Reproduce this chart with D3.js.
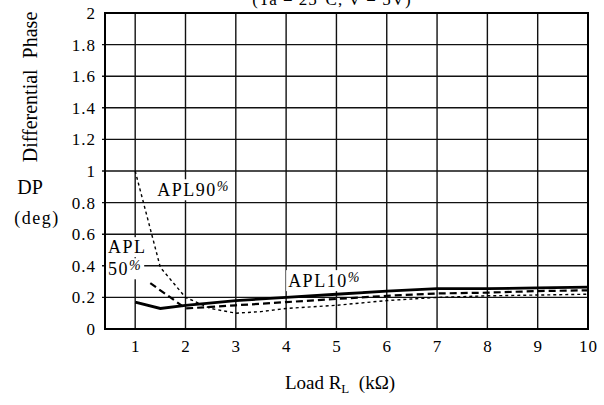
<!DOCTYPE html>
<html>
<head>
<meta charset="utf-8">
<script src="https://cdn.jsdelivr.net/npm/d3@7"></script>
<style>
  body { margin: 0; background: #fff; }
  svg text { font-family: "Liberation Serif", "Times New Roman", serif; }
</style>
</head>
<body>
<div id="chart"></div>
<script>
"use strict";
//values: DP (deg) against load RL (kOhm)
var xTicks = [1, 2, 3, 4, 5, 6, 7, 8, 9, 10];
var yTicks = [0, 0.2, 0.4, 0.6, 0.8, 1, 1.2, 1.4, 1.6, 1.8, 2];

var apl10Load = [1, 1.5, 2, 3, 4, 5, 6, 7, 8, 9, 10];
var apl10DP = [0.17, 0.13, 0.15, 0.18, 0.2, 0.22, 0.24, 0.255, 0.255, 0.26, 0.265];

var apl50Load = [1.3, 1.7, 2, 2.5, 3, 4, 5, 6, 7, 8, 9, 10];
var apl50DP = [0.29, 0.2, 0.13, 0.14, 0.15, 0.17, 0.19, 0.21, 0.225, 0.23, 0.24, 0.245];

var apl90Load = [1, 1.5, 2, 2.5, 3, 3.5, 4, 5, 6, 7, 8, 9, 10];
var apl90DP = [1.0, 0.39, 0.2, 0.13, 0.1, 0.11, 0.13, 0.15, 0.18, 0.2, 0.21, 0.215, 0.22];

var w = 604,
  h = 405;

var x = d3.scaleLinear().domain([0.4, 10]).range([105, 588]);
var y = d3.scaleLinear().domain([0, 2]).range([329, 13]);

var svg = d3
  .select("#chart")
  .append("svg")
  .attr("width", w)
  .attr("height", h);

//grid
var grid = svg.append("g").attr("stroke", "#111").attr("stroke-width", 1.4);
grid
  .selectAll(".vg")
  .data(xTicks.slice(0, -1))
  .enter()
  .append("line")
  .attr("x1", d => x(d))
  .attr("x2", d => x(d))
  .attr("y1", y(2))
  .attr("y2", y(0));
grid
  .selectAll(".hg")
  .data(yTicks.slice(1, -1))
  .enter()
  .append("line")
  .attr("x1", x.range()[0] - 3)
  .attr("x2", x.range()[1])
  .attr("y1", d => y(d))
  .attr("y2", d => y(d));

//frame
svg
  .append("rect")
  .attr("x", x.range()[0])
  .attr("y", y(2))
  .attr("width", x.range()[1] - x.range()[0])
  .attr("height", y(0) - y(2))
  .attr("fill", "none")
  .attr("stroke", "#000")
  .attr("stroke-width", 2);

//axes, labels only
var xAxis = svg
  .append("g")
  .attr("transform", "translate(0," + y(0) + ")")
  .call(d3.axisBottom(x).tickValues(xTicks).tickSize(0).tickPadding(11));
var yAxis = svg
  .append("g")
  .attr("transform", "translate(" + x.range()[0] + ",0)")
  .call(
    d3
      .axisLeft(y)
      .tickValues(yTicks)
      .tickSize(0)
      .tickPadding(9)
      .tickFormat(d => String(+d.toFixed(1)))
  );
[xAxis, yAxis].forEach(function(a) {
  a.select(".domain").remove();
  a.attr("font-family", null).attr("font-size", null);
  a.selectAll("text")
    .style("font-size", "17px")
    .attr("letter-spacing", 1)
    .attr("fill", "#000");
});

//curves
var line = d3
  .line()
  .x(d => x(d[0]))
  .y(d => y(d[1]));

var series = [
  { load: apl90Load, dp: apl90DP, width: 1.4, dash: "3,3" },
  { load: apl50Load, dp: apl50DP, width: 2.2, dash: "7,4" },
  { load: apl10Load, dp: apl10DP, width: 2.8, dash: null }
];

svg
  .append("g")
  .selectAll("path")
  .data(series)
  .enter()
  .append("path")
  .attr("d", s => line(d3.zip(s.load, s.dp)))
  .attr("fill", "none")
  .attr("stroke", "#000")
  .attr("stroke-width", s => s.width)
  .attr("stroke-dasharray", s => s.dash);

//curve labels with white boxes that hide the grid behind them
var notes = [
  { t: "APL90", p: "%", lx: 1.44, ly: 0.84 },
  { t: "APL", p: "", lx: 0.46, ly: 0.48 },
  { t: "50", p: "%", lx: 0.46, ly: 0.34 },
  { t: "APL10", p: "%", lx: 4.04, ly: 0.265 }
];

var noteG = svg.append("g");
notes.forEach(function(n) {
  var g = noteG.append("g");
  var txt = g
    .append("text")
    .attr("x", x(n.lx))
    .attr("y", y(n.ly))
    .attr("font-size", 18)
    .attr("letter-spacing", 1.5)
    .text(n.t);
  if (n.p)
    txt
      .append("tspan")
      .attr("font-size", 14)
      .attr("font-style", "italic")
      .attr("dy", -5)
      .text(n.p);
  var b = txt.node().getBBox();
  g.insert("rect", "text")
    .attr("x", b.x - 2)
    .attr("y", b.y)
    .attr("width", b.width + 4)
    .attr("height", b.height)
    .attr("fill", "#fff");
});

//titles
svg
  .append("text")
  .attr("x", 332)
  .attr("y", 5)
  .attr("text-anchor", "middle")
  .attr("font-size", 17)
  .attr("letter-spacing", 1)
  .text("(Ta = 25°C, V = 5V)");

svg
  .append("text")
  .attr("transform", "translate(37,87) rotate(-90)")
  .attr("text-anchor", "middle")
  .attr("font-size", 20)
  .attr("word-spacing", 6)
  .text("Differential Phase");

svg
  .append("text")
  .attr("x", 30)
  .attr("y", 194)
  .attr("text-anchor", "middle")
  .attr("font-size", 20)
  .text("DP");

svg
  .append("text")
  .attr("x", 37)
  .attr("y", 224)
  .attr("text-anchor", "middle")
  .attr("font-size", 18)
  .attr("letter-spacing", 1.5)
  .text("(deg)");

var xt = svg
  .append("text")
  .attr("x", 340)
  .attr("y", 389)
  .attr("text-anchor", "middle")
  .attr("font-size", 19);
xt.append("tspan").text("Load R");
xt.append("tspan").attr("font-size", 13).attr("dy", 4).text("L");
xt.append("tspan").attr("dy", -4).text("\u00a0 (k\u03a9)");
</script>
</body>
</html>
